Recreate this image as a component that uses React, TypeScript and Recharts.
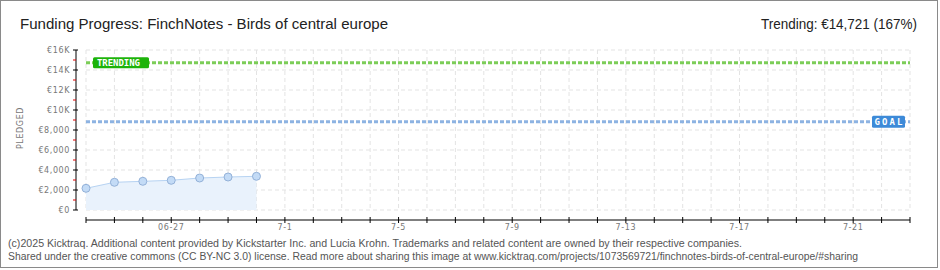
import React from 'react';
import { ComposedChart, Area, XAxis, YAxis, CartesianGrid, ReferenceLine } from 'recharts';

const dayLabels = ['06-24', '06-25', '06-26', '06-27', '06-28', '06-29', '06-30'];
const pledged = [2170, 2770, 2870, 2970, 3200, 3300, 3370];
const goal = 8815;
const trending = 14721;

const xTickDays = Array.from({ length: 30 }, (_, i) => i);
const xLabelDays = [3, 7, 11, 15, 19, 23, 27];
const xLabelTexts = ['06-27', '7-1', '7-5', '7-9', '7-13', '7-17', '7-21'];

const yTicks = [0, 1000, 2000, 3000, 4000, 5000, 6000, 7000, 8000, 9000, 10000, 11000, 12000, 13000, 14000, 15000, 16000];
const yMajor = [0, 2000, 4000, 6000, 8000, 10000, 12000, 14000, 16000];
const yLabelTexts = ['€0', '€2,000', '€4,000', '€6,000', '€8,000', '€10K', '€12K', '€14K', '€16K'];

const data = pledged.map((v, i) => ({ day: i, label: dayLabels[i], pledged: v }));

const tickFont = 'DejaVu Sans, sans-serif';

const YTick = (props: any) => {
  const { x, y, payload } = props;
  const v = payload.value;
  const idx = yMajor.indexOf(v);
  if (idx < 0) {
    return <line x1={x - 13} x2={x - 10} y1={y} y2={y} stroke="#e00000" strokeWidth={1} />;
  }
  return (
    <g>
      <line x1={x - 13} x2={x - 8} y1={y} y2={y} stroke="#000" strokeWidth={1} />
      <text x={x - 16} y={y + 3} textAnchor="end" fontFamily={tickFont} fontSize={8} letterSpacing={0.6} fill="#777">
        {yLabelTexts[idx]}
      </text>
    </g>
  );
};

const XTick = (props: any) => {
  const { x, y, payload } = props;
  const idx = xLabelDays.indexOf(payload.value);
  return (
    <g>
      <line x1={x} x2={x} y1={y + 7} y2={y + 13} stroke="#000" strokeWidth={1} />
      {idx >= 0 && (
        <text x={x} y={y + 20} textAnchor="middle" fontFamily={tickFont} fontSize={8} letterSpacing={0.6} fill="#777">
          {xLabelTexts[idx]}
        </text>
      )}
    </g>
  );
};

const TrendLabel = (props: any) => {
  const vb = props.viewBox || {};
  const x = vb.x + 7;
  const y = vb.y;
  return (
    <g>
      <rect x={x} y={y - 5.5} width={56} height={11} rx={1.5} fill="#1db30a" />
      <text x={x + 4} y={y + 3.5} fontFamily="DejaVu Sans Mono, monospace" fontWeight="bold" fontSize={9} fill="#fff" textLength={43} lengthAdjust="spacing">
        TRENDING
      </text>
    </g>
  );
};

const GoalLabel = (props: any) => {
  const vb = props.viewBox || {};
  const x = vb.x + vb.width - 38;
  const y = vb.y;
  return (
    <g>
      <rect x={x} y={y - 6} width={33} height={12} rx={1.5} fill="#3d8ad8" />
      <text x={x + 2.5} y={y + 3.5} fontFamily="DejaVu Sans Mono, monospace" fontWeight="bold" fontSize={9} fill="#fff" textLength={28} lengthAdjust="spacing">
        GOAL
      </text>
    </g>
  );
};

export default function App() {
  return (
    <div style={{ position: 'fixed', left: 0, top: 0, width: 940, height: 270, background: '#fff' }}>
      <div style={{ position: 'absolute', left: 0, top: 0 }}>
        <ComposedChart width={940} height={270} data={data} margin={{ top: 50, right: 30, bottom: 30, left: 26 }}>
          <CartesianGrid
            stroke="#e3e3e3"
            strokeDasharray="4 3"
            horizontalValues={yMajor}
          />
          <XAxis
            dataKey="day"
            type="number"
            domain={[0, 29]}
            ticks={xTickDays}
            interval={0}
            height={30}
            tickSize={0}
            tickMargin={0}
            tickLine={false}
            axisLine={{ stroke: '#000', transform: 'translate(0,10)' }}
            tick={<XTick />}
          />
          <YAxis
            type="number"
            domain={[0, 16000]}
            ticks={yTicks}
            interval={0}
            width={60}
            tickSize={0}
            tickMargin={0}
            tickLine={false}
            axisLine={{ stroke: '#000', transform: 'translate(-10,0)' }}
            tick={<YTick />}
          />
          <Area
            type="linear"
            dataKey="pledged"
            stroke="#b7d3f2"
            strokeWidth={1}
            fill="#e9f2fc"
            fillOpacity={1}
            dot={{ r: 4, fill: '#c3dbf6', stroke: '#93b1d8', strokeWidth: 1 }}
            isAnimationActive={false}
          />
          <ReferenceLine y={goal} stroke="#8db3e2" strokeWidth={3} strokeDasharray="4 2" label={<GoalLabel />} />
          <ReferenceLine y={trending} stroke="#7ccd58" strokeWidth={3} strokeDasharray="4 2" label={<TrendLabel />} />
        </ComposedChart>
      </div>
      <svg width={940} height={270} style={{ position: 'absolute', left: 0, top: 0, pointerEvents: 'none' }}>
        <rect x={0.5} y={0.5} width={937} height={267} fill="none" stroke="#8a8a8a" strokeWidth={1} />
        <text x={20} y={29} fontFamily="Liberation Sans, sans-serif" fontSize={15} fill="#222" textLength={368} lengthAdjust="spacingAndGlyphs">
          Funding Progress: FinchNotes - Birds of central europe
        </text>
        <text x={761} y={29} fontFamily="Liberation Sans, sans-serif" fontSize={15} fill="#222" textLength={156} lengthAdjust="spacingAndGlyphs">
          Trending: €14,721 (167%)
        </text>
        <text
          x={23}
          y={128}
          transform="rotate(-90 23 128)"
          textAnchor="middle"
          fontFamily={tickFont}
          fontSize={8}
          letterSpacing={0.6}
          fill="#777"
        >
          PLEDGED
        </text>
        <text x={8} y={246.5} fontFamily="Liberation Sans, sans-serif" fontSize={10} fill="#555" textLength={734} lengthAdjust="spacingAndGlyphs">
          (c)2025 Kicktraq. Additional content provided by Kickstarter Inc. and Lucia Krohn. Trademarks and related content are owned by their respective companies.
        </text>
        <text x={8} y={259.5} fontFamily="Liberation Sans, sans-serif" fontSize={10} fill="#555" textLength={850} lengthAdjust="spacingAndGlyphs">
          Shared under the creative commons (CC BY-NC 3.0) license. Read more about sharing this image at www.kicktraq.com/projects/1073569721/finchnotes-birds-of-central-europe/#sharing
        </text>
      </svg>
    </div>
  );
}
